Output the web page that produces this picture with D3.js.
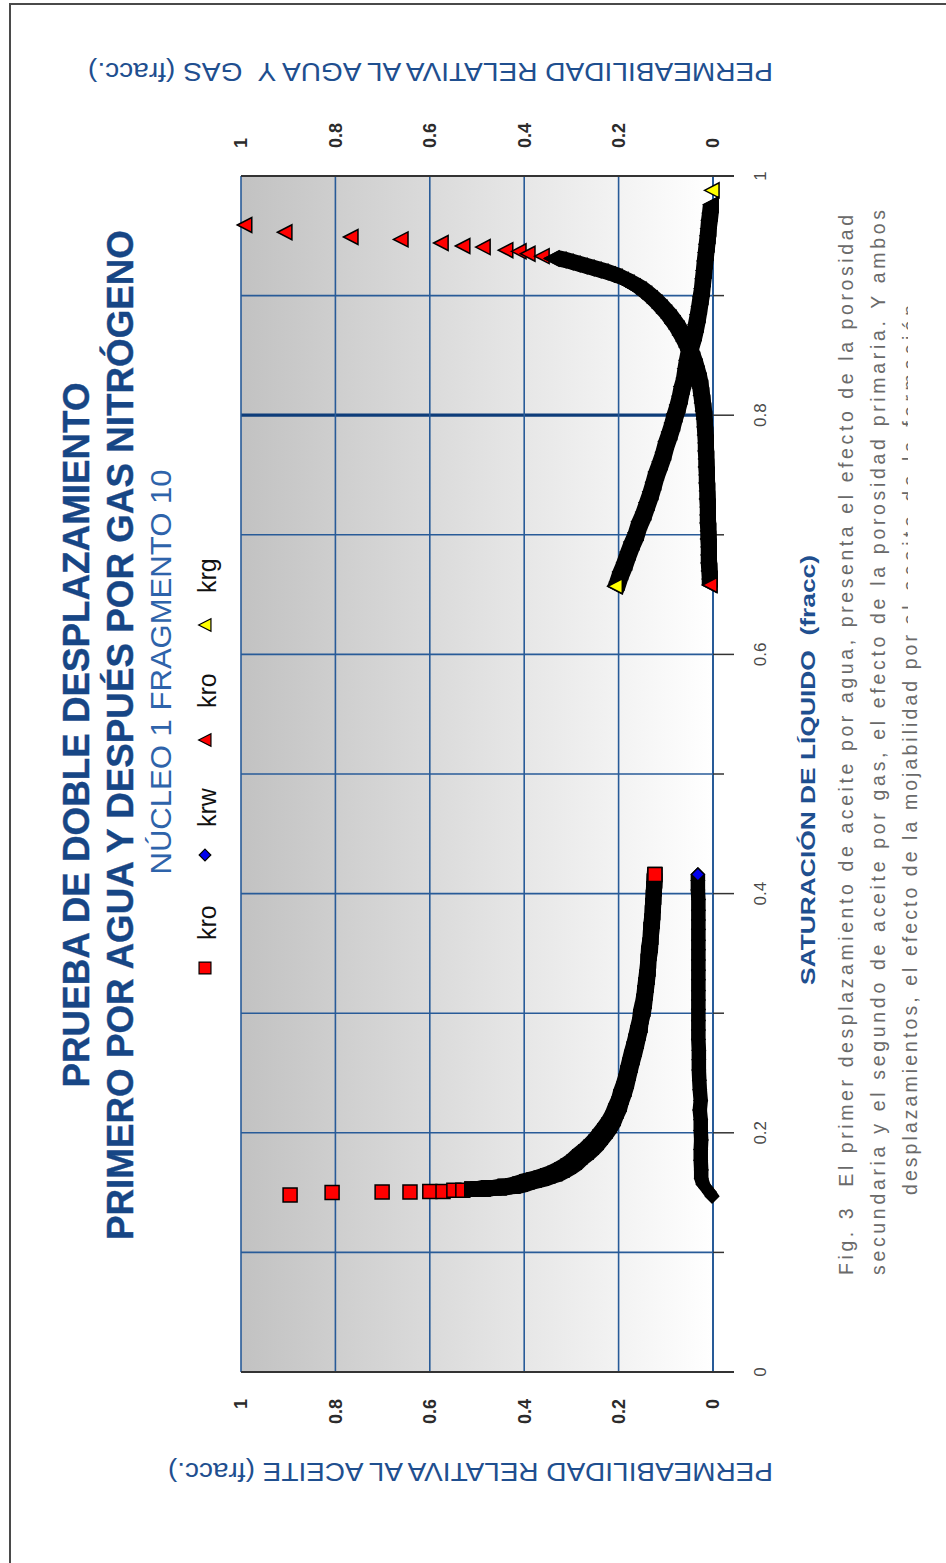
<!DOCTYPE html>
<html>
<head>
<meta charset="utf-8">
<script src="https://cdn.jsdelivr.net/npm/d3@7"></script>
<style>
  body { margin: 0; background: #ffffff; }
  text { font-family: "Liberation Sans", Arial, sans-serif; white-space: pre; }
</style>
</head>
<body>
<svg id="chart" width="946" height="1563"></svg>
<script>
// ---- Data: liquid saturation (fracc) and relative permeabilities ----
// Displacement 1: water displaces oil (saturation increasing)
const swKroAgua = [0.148, 0.150, 0.1505, 0.1505, 0.151, 0.151, 0.152, 0.152, 0.153, 0.153, 0.153, 0.154, 0.154, 0.154, 0.155,
  0.1555, 0.157, 0.159, 0.1605, 0.162, 0.164, 0.166, 0.169, 0.172, 0.1755,
  0.180, 0.184, 0.188, 0.192, 0.1965, 0.2015, 0.2065, 0.212, 0.218, 0.224,
  0.230, 0.2365, 0.243, 0.250, 0.2565, 0.263, 0.270, 0.2765, 0.2835, 0.290,
  0.297, 0.3035, 0.310, 0.317, 0.3235, 0.330, 0.337, 0.3435, 0.350, 0.357,
  0.3635, 0.370, 0.377, 0.384, 0.390, 0.397, 0.404, 0.4105, 0.416];
const kroAgua = [0.896, 0.807, 0.701, 0.642, 0.600, 0.572, 0.549, 0.530, 0.511, 0.498, 0.487, 0.475, 0.464, 0.453, 0.441,
  0.424, 0.409, 0.394, 0.379, 0.364, 0.350, 0.335, 0.320, 0.307, 0.294,
  0.282, 0.269, 0.258, 0.248, 0.239, 0.229, 0.220, 0.212, 0.206, 0.199,
  0.195, 0.189, 0.184, 0.180, 0.176, 0.172, 0.167, 0.163, 0.159, 0.155,
  0.153, 0.149, 0.146, 0.144, 0.142, 0.140, 0.138, 0.137, 0.136, 0.133,
  0.132, 0.131, 0.129, 0.128, 0.127, 0.126, 0.125, 0.124, 0.123];

const swKrw = [0.147, 0.1505, 0.154, 0.157, 0.162, 0.169, 0.177, 0.186, 0.194, 0.202,
  0.211, 0.219, 0.227, 0.236, 0.244, 0.2525, 0.261, 0.269, 0.278, 0.286,
  0.294, 0.303, 0.311, 0.319, 0.328, 0.336, 0.3445, 0.353, 0.361, 0.370,
  0.378, 0.386, 0.395, 0.403, 0.411, 0.416];
const krw = [0.002, 0.008, 0.015, 0.021, 0.025, 0.025, 0.026, 0.026, 0.025, 0.026,
  0.026, 0.028, 0.026, 0.028, 0.029, 0.030, 0.030, 0.030, 0.031, 0.031,
  0.031, 0.031, 0.031, 0.031, 0.031, 0.031, 0.031, 0.031, 0.031, 0.031,
  0.031, 0.031, 0.031, 0.032, 0.032, 0.032];

// Displacement 2: nitrogen displaces oil (saturation decreasing)
const swKroGas = [0.959, 0.953, 0.949, 0.947, 0.944, 0.9415, 0.9406, 0.938, 0.937, 0.935, 0.933, 0.931,
  0.9298, 0.9281, 0.9264, 0.9247, 0.9231, 0.9214, 0.9197, 0.9176, 0.9155, 0.9130,
  0.9105, 0.9076, 0.9047, 0.9013, 0.8976, 0.8938, 0.8896, 0.8855, 0.8813, 0.8767,
  0.8721, 0.8671, 0.8620, 0.8570, 0.8516, 0.8462, 0.8403, 0.8344, 0.8286, 0.8227,
  0.8165, 0.8102, 0.8035, 0.7968, 0.7901, 0.7834, 0.7768, 0.7701, 0.7634, 0.7567,
  0.7500, 0.7433, 0.7366, 0.7299, 0.7232, 0.7166, 0.7099, 0.7032, 0.6965, 0.6898,
  0.6831, 0.6764, 0.6697, 0.6630, 0.6580];
const kroGas = [0.992, 0.907, 0.767, 0.661, 0.576, 0.530, 0.487, 0.439, 0.411, 0.392, 0.362, 0.341,
  0.3263, 0.3114, 0.2966, 0.2818, 0.2669, 0.2521, 0.2373, 0.2225, 0.2076, 0.1949,
  0.1822, 0.1695, 0.1568, 0.1451, 0.1335, 0.1229, 0.1123, 0.1028, 0.0932, 0.0847,
  0.0763, 0.0689, 0.0614, 0.0551, 0.0487, 0.0434, 0.0381, 0.0339, 0.0297, 0.0265,
  0.0244, 0.0222, 0.0201, 0.0180, 0.0169, 0.0159, 0.0148, 0.0148, 0.0138, 0.0138,
  0.0127, 0.0127, 0.0117, 0.0117, 0.0106, 0.0106, 0.0106, 0.0095, 0.0095, 0.0085,
  0.0085, 0.0085, 0.0074, 0.0064, 0.0064];

const swKrg = [0.988, 0.976, 0.969, 0.963, 0.956, 0.950, 0.943, 0.936, 0.929, 0.921,
  0.914, 0.906, 0.899, 0.891, 0.884, 0.876, 0.869, 0.861, 0.854, 0.846,
  0.839, 0.831, 0.824, 0.816, 0.8085, 0.801, 0.7935, 0.786, 0.778, 0.769,
  0.761, 0.7525, 0.744, 0.736, 0.727, 0.719, 0.711, 0.702, 0.694, 0.6856,
  0.677, 0.669, 0.6605, 0.657];
const krg = [0.002, 0.004, 0.006, 0.008, 0.0095, 0.011, 0.013, 0.015, 0.017, 0.019,
  0.021, 0.023, 0.026, 0.029, 0.032, 0.036, 0.040, 0.046, 0.051, 0.055,
  0.058, 0.061, 0.066, 0.070, 0.075, 0.081, 0.086, 0.092, 0.099, 0.105,
  0.112, 0.120, 0.126, 0.132, 0.140, 0.147, 0.156, 0.163, 0.172, 0.180,
  0.1875, 0.196, 0.203, 0.207];

// Axis ticks
const kTicks = [0, 0.2, 0.4, 0.6, 0.8, 1];
const kTickLabels = ["0", "0.2", "0.4", "0.6", "0.8", "1"];
const swTicks = [0, 0.1, 0.2, 0.3, 0.4, 0.5, 0.6, 0.7, 0.8, 0.9, 1];
const swLabelTicks = [0, 0.2, 0.4, 0.6, 0.8, 1];
const swTickLabels = ["0", "0.2", "0.4", "0.6", "0.8", "1"];

// Legend
const legendNames = ["kro", "krw", "kro", "krg"];

// Texts
const titleLines = ["PRUEBA DE DOBLE DESPLAZAMIENTO", "PRIMERO POR AGUA Y DESPUÉS POR GAS NITRÓGENO"];
const subtitle = "NÚCLEO 1 FRAGMENTO 10";
const swTitle = "SATURACIÓN DE LÍQUIDO  (fracc)";
const kroTitle = "PERMEABILIDAD RELATIVA AL ACEITE (fracc.)";
const krwgTitle = "PERMEABILIDAD RELATIVA AL AGUA Y  GAS (fracc.)";
const captionLines = [
  "Fig. 3  El primer desplazamiento de aceite por agua, presenta el efecto de la porosidad",
  "secundaria y el segundo de aceite por gas, el efecto de la porosidad primaria. Y ambos",
  "desplazamientos, el efecto de la mojabilidad por",
  " el aceite de la formación"
];

// ---- Layout (chart turned a quarter turn: saturation runs upward) ----
const plot = { left: 241, right: 713, top: 176, bottom: 1372 };
const blue = "#1f4f8f";
const grid = "#285b98";

const svg = d3.select("#chart");
const kScale = d3.scaleLinear().domain([0, 1]).range([plot.right, plot.left]);
const swScale = d3.scaleLinear().domain([0, 1]).range([plot.bottom, plot.top]);

// Outer frame
svg.append("rect").attr("x", 10).attr("y", 4).attr("width", 1000).attr("height", 1700)
  .attr("fill", "none").attr("stroke", "#4a4a4a").attr("stroke-width", 2);

// Plot background gradient
const defs = svg.append("defs");
const grad = defs.append("linearGradient").attr("id", "bg").attr("x1", "0").attr("x2", "1").attr("y1", "0").attr("y2", "0");
grad.append("stop").attr("offset", "0").attr("stop-color", "#c2c2c2");
grad.append("stop").attr("offset", "1").attr("stop-color", "#ffffff");
svg.append("rect").attr("x", plot.left).attr("y", plot.top)
  .attr("width", plot.right - plot.left).attr("height", plot.bottom - plot.top)
  .attr("fill", "url(#bg)");

// Grid
svg.append("g").selectAll("line").data(swTicks).join("line")
  .attr("x1", plot.left).attr("x2", plot.right)
  .attr("y1", d => swScale(d)).attr("y2", d => swScale(d))
  .attr("stroke", d => Math.abs(d - 0.8) < 1e-9 ? "#0e3d7a" : grid)
  .attr("stroke-width", d => Math.abs(d - 0.8) < 1e-9 ? 3.2 : 1.6);
svg.append("g").selectAll("line").data(kTicks).join("line")
  .attr("x1", d => kScale(d)).attr("x2", d => kScale(d))
  .attr("y1", plot.top).attr("y2", plot.bottom)
  .attr("stroke", grid).attr("stroke-width", d => d === 0 ? 2 : 1.6);

// Saturation axis ticks (on the k = 0 side)
svg.append("g").selectAll("line").data(swTicks).join("line")
  .attr("x1", plot.right).attr("y1", d => swScale(d)).attr("y2", d => swScale(d))
  .attr("x2", (d, i) => plot.right + (i % 2 === 0 ? 21 : 11))
  .attr("stroke", "#333").attr("stroke-width", 1.5);
// Frame lines at saturation 0 and 1
[0, 1].forEach(v => {
  svg.append("line").attr("x1", plot.left).attr("x2", plot.right + 21)
    .attr("y1", swScale(v)).attr("y2", swScale(v)).attr("stroke", "#333").attr("stroke-width", 2);
});

// Saturation tick labels
svg.append("g").selectAll("text").data(swLabelTicks).join("text")
  .attr("transform", d => `translate(760,${swScale(d)}) rotate(-90)`)
  .attr("text-anchor", "middle").attr("dy", "0.36em")
  .attr("font-size", 17).attr("fill", "#4a4a4a")
  .text((d, i) => swTickLabels[i]);

// Oil permeability tick labels (bottom) and water / gas labels (top)
svg.append("g").selectAll("text").data(kTicks).join("text")
  .attr("transform", d => `translate(${kScale(d)},${plot.bottom + 27}) rotate(-90)`)
  .attr("text-anchor", "end").attr("dy", "0.36em")
  .attr("font-size", 18).attr("font-weight", "bold").attr("fill", "#2b2b2b")
  .text((d, i) => kTickLabels[i]);
svg.append("g").selectAll("text").data(kTicks).join("text")
  .attr("transform", d => `translate(${kScale(d)},${plot.top - 28}) rotate(-90)`)
  .attr("text-anchor", "start").attr("dy", "0.36em")
  .attr("font-size", 18).attr("font-weight", "bold").attr("fill", "#2b2b2b")
  .text((d, i) => kTickLabels[i]);

// Axis titles
svg.append("text").attr("transform", "translate(773,63) rotate(180)")
  .attr("text-anchor", "start").attr("font-size", 26).attr("fill", blue)
  .attr("textLength", 685).attr("lengthAdjust", "spacingAndGlyphs")
  .text(krwgTitle);
svg.append("text").attr("transform", "translate(773,1463) rotate(180)")
  .attr("text-anchor", "start").attr("font-size", 26).attr("fill", blue)
  .attr("textLength", 605).attr("lengthAdjust", "spacingAndGlyphs")
  .text(kroTitle);
svg.append("text").attr("transform", "translate(815,770) rotate(-90)")
  .attr("text-anchor", "middle").attr("font-size", 21).attr("font-weight", "bold").attr("fill", blue)
  .attr("textLength", 430).attr("lengthAdjust", "spacingAndGlyphs")
  .text(swTitle);

// Title and subtitle
const titleLen = [705, 1010];
const titleBase = [89, 133];
titleLines.forEach((t, i) => {
  svg.append("text").attr("transform", `translate(${titleBase[i]},735) rotate(-90)`)
    .attr("text-anchor", "middle").attr("font-size", 37).attr("font-weight", "bold")
    .attr("fill", "#174685").attr("stroke", "#174685").attr("stroke-width", 0.4)
    .attr("textLength", titleLen[i]).attr("lengthAdjust", "spacingAndGlyphs")
    .text(t);
});
svg.append("text").attr("transform", "translate(171,672) rotate(-90)")
  .attr("text-anchor", "middle").attr("font-size", 29).attr("fill", "#2e63aa")
  .attr("textLength", 405).attr("lengthAdjust", "spacingAndGlyphs")
  .text(subtitle);

// ---- Marker shapes (offsets in px) ----
const shapes = {
  square: [[-7, -7], [7, -7], [7, 7], [-7, 7]],
  diamond: [[0, -6.5], [6.5, 0], [0, 6.5], [-6.5, 0]],
  triangle: [[-7.5, 0], [7, -7.5], [7, 7.5]]
};
const polyPath = pts => "M" + pts.map(p => p.join(",")).join("L") + "Z";

// Scatter series: each marker is drawn over the previous one; when two
// consecutive readings are logged closer than `joinDist`, the outline swept
// between them fills the gap, so densely logged stretches read as a solid band.
function drawSeries(sat, perm, shapeName, fill, joinDist) {
  const g = svg.append("g");
  const shape = shapes[shapeName];
  const pts = sat.map((s, i) => [kScale(perm[i]), swScale(s)]);
  pts.forEach((p, i) => {
    if (i > 0) {
      const q = pts[i - 1];
      if (Math.hypot(p[0] - q[0], p[1] - q[1]) < joinDist) {
        const hull = d3.polygonHull(shape.flatMap(v => [[q[0] + v[0], q[1] + v[1]], [p[0] + v[0], p[1] + v[1]]]));
        g.append("path").attr("d", polyPath(hull))
          .attr("fill", "#000").attr("stroke", "#000").attr("stroke-width", 1.5).attr("stroke-linejoin", "round");
      }
    }
    g.append("path").attr("d", polyPath(shape.map(v => [p[0] + v[0], p[1] + v[1]])))
      .attr("fill", fill).attr("stroke", "#000").attr("stroke-width", 1.5);
  });
}

const series = [
  { sat: swKroAgua, perm: kroAgua, shape: "square", fill: "#ff0000", join: 8.8 },
  { sat: swKrw, perm: krw, shape: "diamond", fill: "#0000ee", join: 12 },
  { sat: swKroGas, perm: kroGas, shape: "triangle", fill: "#ff0000", join: 8.8 },
  { sat: swKrg, perm: krg, shape: "triangle", fill: "#ffff00", join: 12 }
];
series.forEach(s => drawSeries(s.sat, s.perm, s.shape, s.fill, s.join));

// ---- Legend ----
const legendMarkerY = [968, 855, 740, 625];
const legendTextY = [940, 827, 708, 593];
const legendScale = [0.85, 0.9, 0.85, 0.85];
series.forEach((s, i) => {
  const f = legendScale[i];
  svg.append("path")
    .attr("d", polyPath(shapes[s.shape].map(v => [205 + v[0] * f, legendMarkerY[i] + v[1] * f])))
    .attr("fill", s.fill).attr("stroke", "#000").attr("stroke-width", 1.2);
  svg.append("text").attr("transform", `translate(216,${legendTextY[i]}) rotate(-90)`)
    .attr("text-anchor", "start").attr("font-size", 25).attr("fill", "#111")
    .text(legendNames[i]);
});

// ---- Caption ----
const capColor = "#6a6a6a";
const capSize = 19.5;
svg.append("text").attr("transform", "translate(853,1275) rotate(-90)")
  .attr("font-size", capSize).attr("fill", capColor)
  .attr("textLength", 1060).attr("lengthAdjust", "spacing").text(captionLines[0]);
svg.append("text").attr("transform", "translate(885,1275) rotate(-90)")
  .attr("font-size", capSize).attr("fill", capColor)
  .attr("textLength", 1065).attr("lengthAdjust", "spacing").text(captionLines[1]);
svg.append("text").attr("transform", "translate(917,1195) rotate(-90)")
  .attr("font-size", capSize).attr("fill", capColor)
  .attr("textLength", 560).attr("lengthAdjust", "spacing").text(captionLines[2]);
// last words run under the edge of the caption box
defs.append("clipPath").attr("id", "capClip")
  .append("rect").attr("x", 880).attr("y", 150).attr("width", 28).attr("height", 500);
svg.append("g").attr("clip-path", "url(#capClip)")
  .append("text").attr("transform", "translate(917,635) rotate(-90)")
  .attr("font-size", capSize).attr("fill", capColor)
  .attr("textLength", 330).attr("lengthAdjust", "spacing")
  .text(captionLines[3]);
</script>
</body>
</html>
